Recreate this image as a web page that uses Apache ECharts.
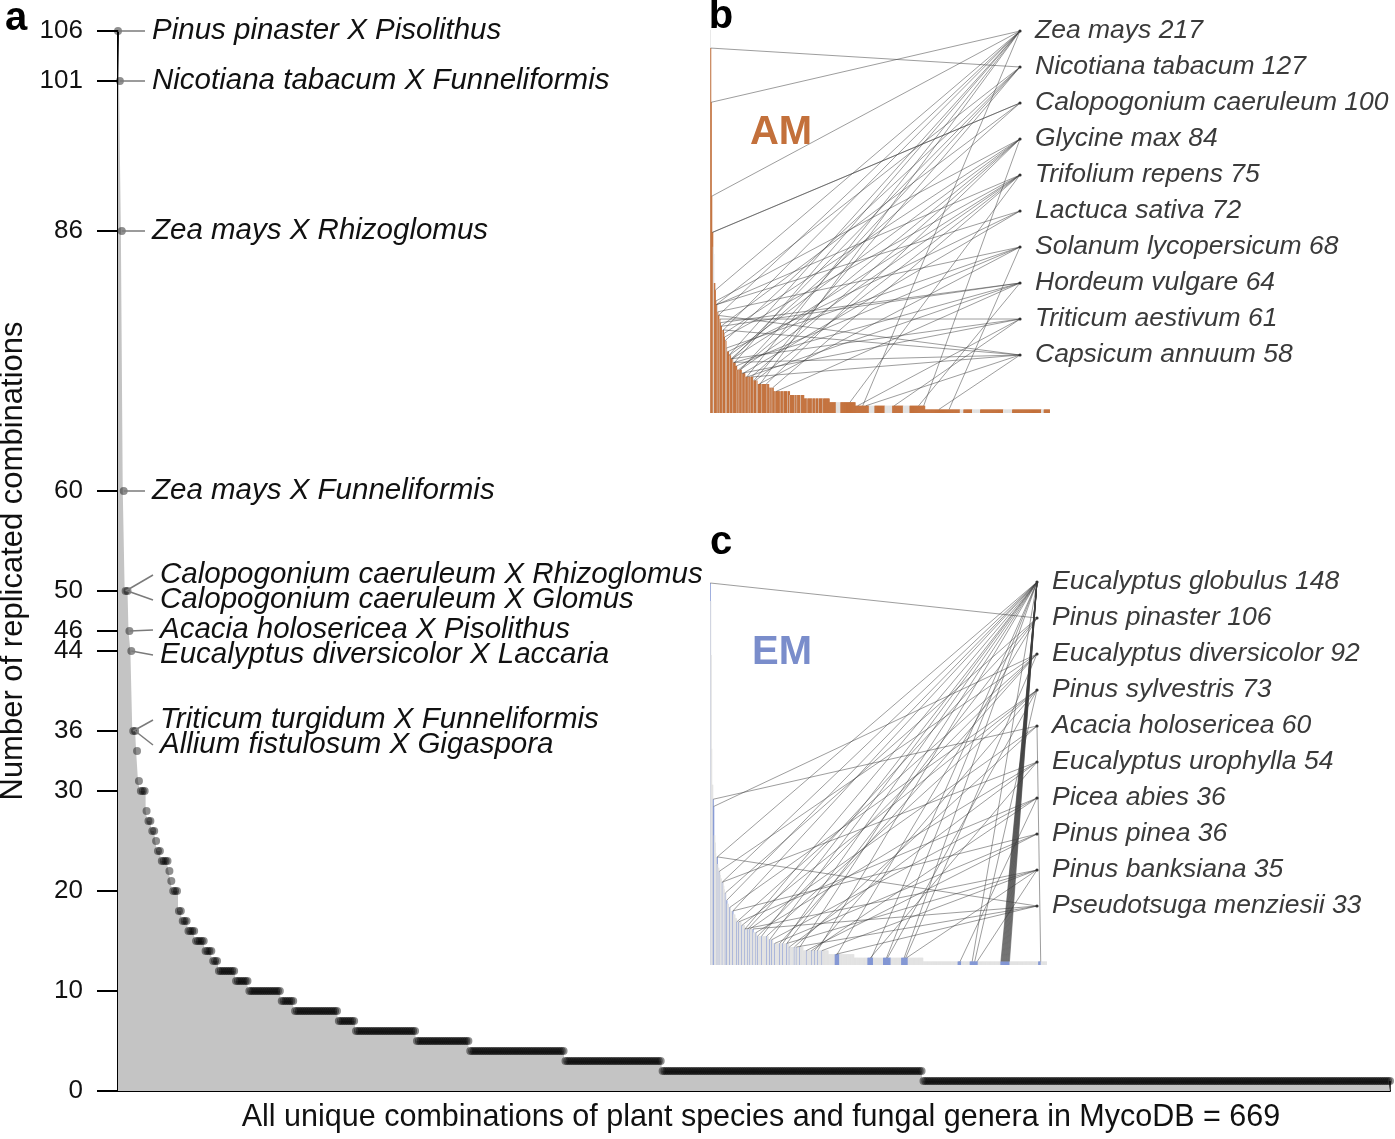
<!DOCTYPE html>
<html><head><meta charset="utf-8">
<script src="https://cdn.jsdelivr.net/npm/echarts@6/dist/echarts.min.js"></script>
<style>html,body{margin:0;padding:0;background:#fff}#chart{width:1395px;height:1139px}</style>
</head><body><div id="chart"></div>
<script>
// ---------------- DATA ----------------
// distinct replicate counts (descending) and how many combinations share each count
const valueLevels = [106,101,86,60,50,46,44,36,34,31,30,28,27,26,25,24,23,22,21,20,18,17,16,15,14,13,12,11,10,9,8,7,6,5,4,3,2,1];
const levelCounts = [1,1,1,1,2,1,1,2,1,1,3,1,2,2,1,2,4,1,1,3,2,3,4,5,4,3,9,7,17,7,23,9,32,28,50,51,137,246];
const yTickValues = [0,10,20,30,36,44,46,50,60,86,101,106];

const annotatedIndex = [0,1,2,3,4,5,6,7,8,9];
const annotationNames = [
  'Pinus pinaster X Pisolithus',
  'Nicotiana tabacum X Funneliformis',
  'Zea mays X Rhizoglomus',
  'Zea mays X Funneliformis',
  'Calopogonium caeruleum X Rhizoglomus',
  'Calopogonium caeruleum X Glomus',
  'Acacia holosericea X Pisolithus',
  'Eucalyptus diversicolor X Laccaria',
  'Triticum turgidum X Funneliformis',
  'Allium fistulosum X Gigaspora'
];

// combinations (by rank index) that are ectomycorrhizal; the rest are arbuscular
const emSingles = [0,6,7,14,18,24,30,33,39,45,53,57,63,69,75,79,85,91,94,102,112,118,122,128,138,144,152,157,167,171,178,191,201,207,213,222];
const emRuns = [[248,9],[313,11],[344,15],[380,13],[492,7],[516,16],[577,18],[652,5]];

const amPlants = ['Zea mays 217','Nicotiana tabacum 127','Calopogonium caeruleum 100','Glycine max 84','Trifolium repens 75','Lactuca sativa 72','Solanum lycopersicum 68','Hordeum vulgare 64','Triticum aestivum 61','Capsicum annuum 58'];
const amLinks = [
  [2,3,10,16,26,37,48,72,98,300],
  [1,12,29,44,60,86],
  [4,5,21,41],
  [11,27,38,56,81,110,420],
  [13,28,43,59,89,123,275],
  [12,35,65],
  [15,32,51,96,470],
  [20,22,47,73,130,410],
  [19,42,62,290,362],
  [17,25,46,84,306,450]
];
const emPlants = ['Eucalyptus globulus 148','Pinus pinaster 106','Eucalyptus diversicolor 92','Pinus sylvestris 73','Acacia holosericea 60','Eucalyptus urophylla 54','Picea abies 36','Pinus pinea 36','Pinus banksiana 35','Pseudotsuga menziesii 33'];
const emLinks = [
  [14,24,33,45,69,102,118,144,178,213,320,350,385,520,577,578,579,580,581,582,583,584,585,586,587,588,589,590,591,592,593,594],
  [0,30,75,152,252],
  [7,18,53,94,138,388],
  [39,63,112,207,352,525],
  [6,79,167,656],
  [24,91,157,318],
  [57,122,201,496],
  [45,128,191],
  [69,152,222,390,530],
  [14,85,171,250]
];

// ---------------- LAYOUT / STYLE ----------------
const FONT = '"Liberation Sans", Arial, Helvetica, sans-serif';
const annIndent = [34,34,34,34,42,42,42,42,42,42];
const annShift  = [0,0,0,0,-16,9,-1,4,-11,14];
const insetB = {left:710, top:30, width:340, height:383, anchorX:1020, textX:1035, labelY0:31, step:36};
const insetC = {left:710, top:583, width:337, height:382, anchorX:1037, textX:1052, labelY0:582, step:36};
const ORANGE = '#c3703b', BLUE = '#8195d3', LIGHT = '#e2e2e2';

// ---------------- BUILD ----------------
const comboValues = [];
valueLevels.forEach((v,k)=>{ for(let j=0;j<levelCounts[k];j++) comboValues.push(v); });
const isEM = comboValues.map(()=>false);
emSingles.forEach(i=>{ isEM[i]=true; });
emRuns.forEach(([s,n])=>{ for(let j=0;j<n;j++) isEM[s+j]=true; });
const comboIdx = comboValues.map((_,i)=>String(i));
const mainPts = comboValues.map((v,i)=>[i,v]);

function linkData(links){
  const out=[];
  links.forEach((arr,k)=>arr.forEach(i=>out.push([i, comboValues[i], k])));
  return out;
}
function connRender(L){
  return function(params, api){
    const p = api.coord([api.value(0), api.value(1)]);
    const ay = L.labelY0 + api.value(2)*L.step;
    return {type:'line', shape:{x1:p[0], y1:p[1], x2:L.anchorX, y2:ay},
      style:{stroke:'rgba(60,60,60,0.5)', lineWidth:1}};
  };
}

const graphics = [];
function addLabels(names, L){
  names.forEach((name,k)=>{
    const y = L.labelY0 + k*L.step;
    graphics.push({type:'text', x:L.textX, y:y, z:20,
      style:{text:name, font:'italic 26.5px '+FONT, fill:'#3a3a3a', textAlign:'left', textVerticalAlign:'middle'}});
    graphics.push({type:'circle', z:20, shape:{cx:L.anchorX, cy:y, r:1.6}, style:{fill:'#333'}});
  });
}
addLabels(amPlants, insetB);
addLabels(emPlants, insetC);
graphics.push({type:'text', x:16, y:19, z:20, style:{text:'a', font:'bold 40px '+FONT, fill:'#000', textAlign:'center', textVerticalAlign:'middle'}});
graphics.push({type:'text', x:721, y:17, z:20, style:{text:'b', font:'bold 40px '+FONT, fill:'#000', textAlign:'center', textVerticalAlign:'middle'}});
graphics.push({type:'text', x:721, y:543, z:20, style:{text:'c', font:'bold 40px '+FONT, fill:'#000', textAlign:'center', textVerticalAlign:'middle'}});
graphics.push({type:'text', x:781, y:133, z:20, style:{text:'AM', font:'bold 40px '+FONT, fill:ORANGE, textAlign:'center', textVerticalAlign:'middle'}});
graphics.push({type:'text', x:782, y:653, z:20, style:{text:'EM', font:'bold 40px '+FONT, fill:'#7a8dcb', textAlign:'center', textVerticalAlign:'middle'}});

const chart = echarts.init(document.getElementById('chart'), null, {renderer:'canvas'});
chart.setOption({
  animation:false,
  backgroundColor:'#fff',
  textStyle:{fontFamily:FONT},
  grid:[
    {left:118, top:31, width:1272, height:1060, containLabel:false, outerBoundsMode:'none'},
    {left:insetB.left, top:insetB.top, width:insetB.width, height:insetB.height, containLabel:false, outerBoundsMode:'none'},
    {left:insetC.left, top:insetC.top, width:insetC.width, height:insetC.height, containLabel:false, outerBoundsMode:'none'}
  ],
  xAxis:[
    {type:'value', gridIndex:0, min:0, max:comboValues.length-1,
      axisLine:{show:true, onZero:false, lineStyle:{color:'#000', width:2}},
      axisTick:{show:true, inside:true, length:10, customValues:[comboValues.length-1], lineStyle:{color:'#000', width:1.5}},
      axisLabel:{show:false}, splitLine:{show:false},
      name:'All unique combinations of plant species and fungal genera in MycoDB = 669',
      nameLocation:'middle', nameGap:11,
      nameTextStyle:{fontSize:30.5, color:'#111', fontFamily:FONT, padding:[0,0,0,14]}},
    {type:'category', gridIndex:1, data:comboIdx, show:false, boundaryGap:true},
    {type:'category', gridIndex:2, data:comboIdx, show:false, boundaryGap:true}
  ],
  yAxis:[
    {type:'value', gridIndex:0, min:0, max:106,
      axisLine:{show:true, lineStyle:{color:'#000', width:2}},
      axisTick:{show:true, length:21, customValues:yTickValues, lineStyle:{color:'#000', width:2}},
      axisLabel:{customValues:yTickValues, fontSize:26, color:'#111', margin:35, fontFamily:FONT},
      splitLine:{show:false},
      name:'Number of replicated combinations', nameLocation:'middle', nameGap:86,
      nameTextStyle:{fontSize:31, color:'#111', fontFamily:FONT}},
    {type:'value', gridIndex:1, min:0, max:106, show:false, splitLine:{show:false}},
    {type:'value', gridIndex:2, min:0, max:106, show:false, splitLine:{show:false}}
  ],
  series:[
    {type:'line', xAxisIndex:0, yAxisIndex:0, data:mainPts, step:'middle', symbol:'none',
      lineStyle:{width:0}, areaStyle:{color:'#c4c4c4', opacity:1}, silent:true, z:1},
    {type:'scatter', xAxisIndex:0, yAxisIndex:0, data:mainPts, symbol:'circle', symbolSize:8,
      itemStyle:{color:'rgba(0,0,0,0.55)'}, silent:true, z:3},
    {type:'custom', xAxisIndex:0, yAxisIndex:0, z:4, silent:true,
      data: annotatedIndex.map((i,k)=>[i, comboValues[i], k]),
      renderItem:function(params, api){
        const p = api.coord([api.value(0), api.value(1)]);
        const k = api.value(2);
        const tx = params.coordSys.x + annIndent[k];
        const ty = p[1] + annShift[k];
        return {type:'group', children:[
          {type:'line', shape:{x1:p[0], y1:p[1], x2:tx-7, y2:ty}, style:{stroke:'#7a7a7a', lineWidth:1.5}},
          {type:'text', x:tx, y:ty, style:{text:annotationNames[k], font:'italic 29.5px '+FONT, fill:'#111', textAlign:'left', textVerticalAlign:'middle'}}
        ]};
      }},
    {type:'bar', xAxisIndex:1, yAxisIndex:1, silent:true, barCategoryGap:'0%', barGap:'0%', z:5,
      data: comboValues.map((v,i)=>({value:v, itemStyle:{color: isEM[i] ? LIGHT : ORANGE}}))},
    {type:'custom', xAxisIndex:1, yAxisIndex:1, silent:true, z:6, data: linkData(amLinks), renderItem: connRender(insetB)},
    {type:'bar', xAxisIndex:2, yAxisIndex:2, silent:true, barCategoryGap:'0%', barGap:'0%', z:5,
      data: comboValues.map((v,i)=>({value:v, itemStyle:{color: isEM[i] ? BLUE : LIGHT}}))},
    {type:'custom', xAxisIndex:2, yAxisIndex:2, silent:true, z:6, data: linkData(emLinks), renderItem: connRender(insetC)}
  ],
  graphic: graphics
});
</script></body></html>
